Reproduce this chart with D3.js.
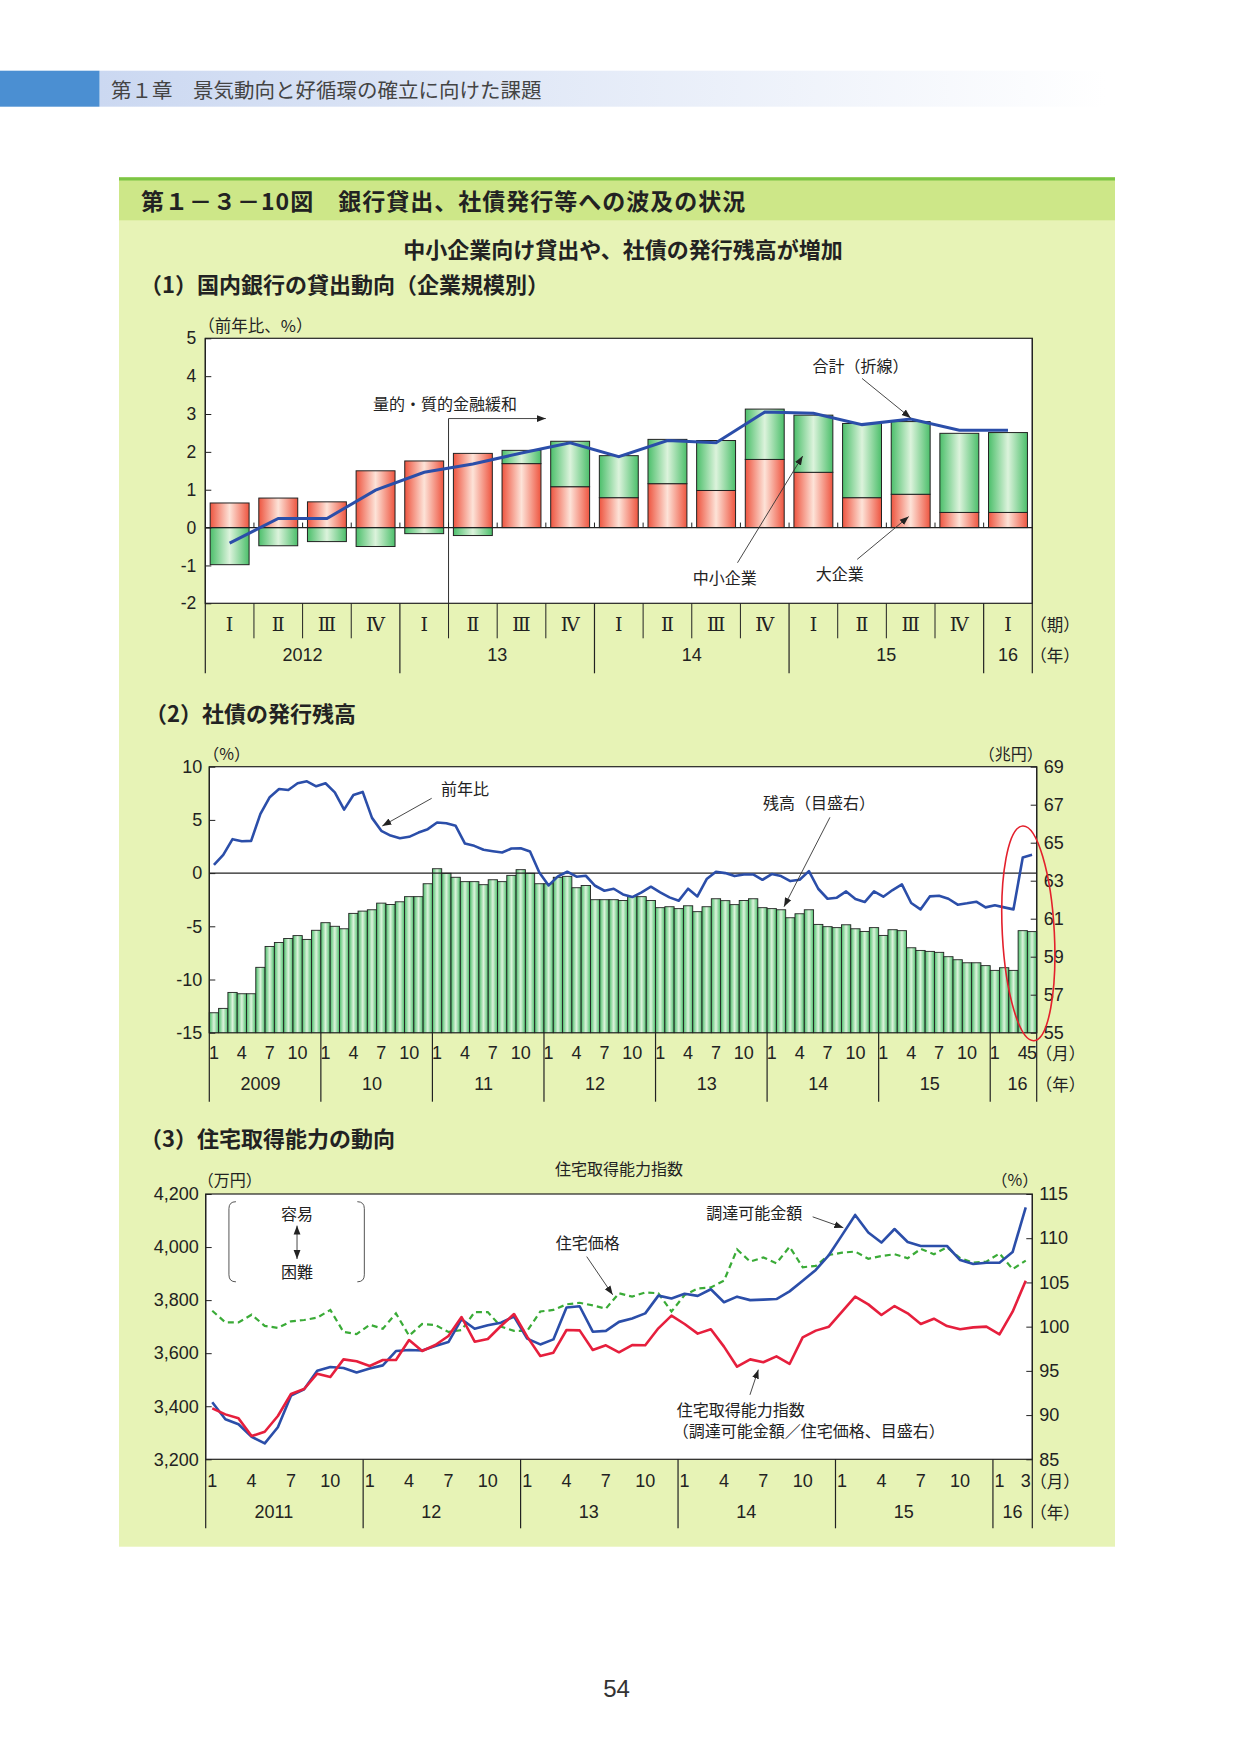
<!DOCTYPE html>
<html><head><meta charset="utf-8">
<script src="https://cdn.jsdelivr.net/npm/d3@7"></script>
<style>
body{margin:0;background:#fff;}
svg{display:block;}
text{font-family:"Noto Sans CJK JP","Noto Sans",sans-serif;fill:#222;}
.num{font-family:"Liberation Sans","Noto Sans CJK JP",sans-serif;}
.rom{font-family:"DejaVu Serif","Liberation Serif",serif;}
</style></head><body>
<script>
// ================= DATA =================
// (1) bank lending by firm size, y/y %, quarterly 2012Q1-2016Q1
const c1Quarters = ["Ⅰ","Ⅱ","Ⅲ","Ⅳ","Ⅰ","Ⅱ","Ⅲ","Ⅳ","Ⅰ","Ⅱ","Ⅲ","Ⅳ","Ⅰ","Ⅱ","Ⅲ","Ⅳ","Ⅰ"];
const c1Years = ["2012","13","14","15","16"];
const c1QuartersPerYear = [4,4,4,4,1];
const c1Large = [0.65,0.78,0.68,1.50,1.76,1.96,1.69,1.08,0.79,1.16,0.98,1.80,1.46,0.79,0.88,0.40,0.40];
const c1Small = [-0.98,-0.48,-0.37,-0.50,-0.16,-0.21,0.35,1.20,1.11,1.17,1.32,1.33,1.51,1.96,1.92,2.09,2.11];
const c1Total = [-0.41,0.24,0.24,0.99,1.46,1.68,1.97,2.24,1.87,2.30,2.24,3.05,3.02,2.72,2.87,2.57,2.57];
const c1YTicks = [-2,-1,0,1,2,3,4,5];

// (2) corporate bonds outstanding, monthly 2009/1-2016/5
const c2Years = ["2009","10","11","12","13","14","15","16"];
const c2MonthsPerYear = [12,12,12,12,12,12,12,5];
const c2Growth = [
 0.78,1.72,3.19,3.00,3.03,5.56,7.13,7.90,7.81,8.44,8.63,8.16,
 8.44,7.59,5.97,7.34,7.63,5.19,3.97,3.53,3.28,3.41,3.81,4.13,
 4.75,4.69,4.44,2.78,2.56,2.19,2.06,1.94,2.31,2.34,2.03,0.06,
 -1.16,-0.31,0.13,-0.34,-0.25,-1.19,-1.66,-1.47,-2.00,-2.25,-1.81,-1.28,
 -1.81,-2.28,-2.59,-1.47,-2.19,-0.56,0.13,0.00,-0.28,-0.13,-0.13,-0.63,
 -0.09,-0.28,-0.75,-0.63,0.19,-1.47,-2.41,-2.31,-1.72,-2.44,-2.72,-1.72,
 -2.22,-1.59,-1.06,-2.81,-3.41,-2.19,-2.13,-2.41,-2.97,-2.84,-2.69,-3.22,
 -3.03,-3.22,-3.41,1.47,1.72];
const c2Outstanding = [
 56.05,56.28,57.12,57.05,57.05,58.44,59.54,59.75,59.96,60.11,59.91,60.39,
 60.79,60.60,60.47,61.28,61.40,61.47,61.82,61.75,61.89,62.16,62.16,62.84,
 63.63,63.39,63.18,62.95,62.95,62.79,63.05,62.95,63.28,63.58,63.39,62.84,
 62.84,63.18,63.23,62.63,62.75,62.00,62.00,62.00,61.96,62.16,62.16,61.96,
 61.58,61.63,61.53,61.68,61.37,61.63,62.05,61.95,61.74,61.96,62.05,61.58,
 61.53,61.47,61.05,61.26,61.47,60.70,60.58,60.53,60.68,60.47,60.33,60.53,
 60.12,60.42,60.37,59.47,59.33,59.28,59.23,59.00,58.84,58.68,58.68,58.53,
 58.28,58.42,58.28,60.37,60.32];
const c2LeftTicks = [-15,-10,-5,0,5,10];
const c2RightTicks = [55,57,59,61,63,65,67,69];
const c2MonthTickLabels = [1,4,7,10];

// (3) housing affordability, monthly 2011/1-2016/3
const c3Years = ["2011","12","13","14","15","16"];
const c3MonthsPerYear = [12,12,12,12,12,3];
const c3Funds = [
 3415,3351,3332,3285,3260,3321,3440,3464,3534,3548,3544,3527,
 3542,3554,3608,3612,3610,3627,3642,3728,3692,3705,3715,3738,
 3655,3633,3652,3772,3777,3681,3684,3718,3731,3750,3817,3806,
 3824,3816,3841,3792,3813,3800,3802,3804,3833,3873,3914,3970,
 4045,4121,4055,4017,4068,4019,4004,4004,4004,3951,3936,3941,
 3941,3981,4150];
const c3Price = [
 3760,3716,3716,3745,3703,3695,3720,3725,3734,3763,3680,3672,
 3707,3692,3750,3666,3710,3706,3680,3687,3755,3755,3700,3684,
 3684,3757,3763,3784,3790,3780,3768,3826,3813,3829,3826,3757,
 3819,3844,3848,3873,3991,3945,3961,3939,4001,3924,3929,3970,
 3979,3983,3956,3966,3973,3958,3993,3973,3999,3958,3941,3945,
 3976,3917,3949];
const c3Index = [
 90.76,90.08,89.63,87.63,88.12,89.90,92.38,92.95,94.68,94.31,96.30,96.08,
 95.55,96.23,96.23,98.49,97.25,97.92,98.94,101.09,98.30,98.60,100.07,101.43,
 98.87,96.68,97.06,99.62,99.58,97.36,97.89,97.10,97.92,97.89,99.81,101.24,
 100.30,99.21,99.70,97.74,95.47,96.30,95.97,96.64,95.78,98.79,99.55,100.00,
 101.69,103.39,102.52,101.32,102.33,101.51,100.30,100.90,100.07,99.70,99.92,100.00,
 99.13,101.69,105.20];
const c3LeftTicks = [3200,3400,3600,3800,4000,4200];
const c3RightTicks = [85,90,95,100,105,110,115];

// ================= PAGE =================
const W = 1241, H = 1754;
const svg = d3.select("body").append("svg").attr("width", W).attr("height", H);
const defs = svg.append("defs");

function hGrad(id, edge, mid) {
  const g = defs.append("linearGradient").attr("id", id).attr("x1", "0").attr("x2", "1").attr("y1", "0").attr("y2", "0");
  g.append("stop").attr("offset", "0").attr("stop-color", edge);
  g.append("stop").attr("offset", "0.5").attr("stop-color", mid);
  g.append("stop").attr("offset", "1").attr("stop-color", edge);
}
hGrad("gRed", "#ee5540", "#fde3d8");
hGrad("gGreen", "#4cbf6b", "#dcf3dc");
const hg = defs.append("linearGradient").attr("id", "gHead").attr("x1", "0").attr("x2", "1");
hg.append("stop").attr("offset", "0").attr("stop-color", "#cbd8f1");
hg.append("stop").attr("offset", "1").attr("stop-color", "#ffffff");

defs.append("marker").attr("id", "ah").attr("viewBox", "0 0 10 10").attr("refX", 10).attr("refY", 5)
  .attr("markerWidth", 9).attr("markerHeight", 9).attr("markerUnits", "userSpaceOnUse").attr("orient", "auto-start-reverse")
  .append("path").attr("d", "M0,1.2 L10,5 L0,8.8 Z").attr("fill", "#222");

function arrow(g, xa, ya, xb, yb, both) {
  const l = g.append("line").attr("x1", xa).attr("y1", ya).attr("x2", xb).attr("y2", yb)
    .attr("stroke", "#333").attr("stroke-width", 0.9).attr("marker-end", "url(#ah)");
  if (both) l.attr("marker-start", "url(#ah)");
}
function txt(g, x, y, s, size, anchor, cls, weight) {
  return g.append("text").attr("x", x).attr("y", y).attr("font-size", size)
    .attr("text-anchor", anchor || "start").attr("dominant-baseline", "central")
    .attr("class", cls || null).attr("font-weight", weight || null).text(s);
}

// header band
svg.append("rect").attr("x", 99.5).attr("y", 70.7).attr("width", 1006).attr("height", 36).attr("fill", "url(#gHead)");
svg.append("rect").attr("x", 0).attr("y", 70.7).attr("width", 99.5).attr("height", 36).attr("fill", "#4b8fd2");
txt(svg, 111, 88.7, "第１章　景気動向と好循環の確立に向けた課題", 20.5, "start").style("fill", "#444");

// panel
svg.append("rect").attr("x", 119).attr("y", 220).attr("width", 996).attr("height", 1326.7).attr("fill", "#e7f3b6");
svg.append("rect").attr("x", 119).attr("y", 177.3).attr("width", 996).attr("height", 43).attr("fill", "#cde788");
svg.append("rect").attr("x", 119).attr("y", 177.3).attr("width", 996).attr("height", 3.2).attr("fill", "#7cc545");
txt(svg, 141, 199.5, "第１－３－10図　銀行貸出、社債発行等への波及の状況", 23, "start", null, "bold").attr("letter-spacing", 1);
txt(svg, 623, 248, "中小企業向け貸出や、社債の発行残高が増加", 22, "middle", null, "bold");
txt(svg, 140, 282.7, "（1）国内銀行の貸出動向（企業規模別）", 22, "start", null, "bold");
txt(svg, 145, 711.7, "（2）社債の発行残高", 22, "start", null, "bold");
txt(svg, 140, 1137, "（3）住宅取得能力の動向", 22, "start", null, "bold");
txt(svg, 616.5, 1688, "54", 24, "middle", "num").style("fill", "#333");

// helper for category rows
function cumulative(arr) { const out = [0]; arr.forEach(v => out.push(out[out.length - 1] + v)); return out; }

// ================= CHART 1 =================
(function () {
  const P = { l: 205.3, r: 1032.3, t: 338.3, b: 603.3 };
  const n = c1Large.length;
  const g = svg.append("g");
  const x = d3.scaleBand().domain(d3.range(n)).range([P.l, P.r]).paddingInner(0.2).paddingOuter(0.1);
  const q = d3.scaleLinear().domain([0, n]).range([P.l, P.r]);
  const y = d3.scaleLinear().domain([-2, 5]).range([P.b, P.t]);

  g.append("rect").attr("x", P.l).attr("y", P.t).attr("width", P.r - P.l).attr("height", P.b - P.t)
    .attr("fill", "#fff").attr("stroke", "#222").attr("stroke-width", 1.2);

  // annotation: QQE start line
  g.append("line").attr("x1", q(5)).attr("x2", q(5)).attr("y1", y(2.88)).attr("y2", P.b).attr("stroke", "#333").attr("stroke-width", 1);
  arrow(g, q(5), y(2.88), q(7), y(2.88));
  txt(g, q(4.93), y(3.28), "量的・質的金融緩和", 16, "middle");

  const bw = x.bandwidth();
  const bars = g.append("g");
  c1Large.forEach((L, i) => {
    bars.append("rect").attr("x", x(i)).attr("width", bw).attr("y", y(L)).attr("height", y(0) - y(L))
      .attr("fill", "url(#gRed)").attr("stroke", "#222").attr("stroke-width", 1);
    const s = c1Small[i];
    if (s < 0) {
      bars.append("rect").attr("x", x(i)).attr("width", bw).attr("y", y(0)).attr("height", y(s) - y(0))
        .attr("fill", "url(#gGreen)").attr("stroke", "#222").attr("stroke-width", 1);
    } else {
      bars.append("rect").attr("x", x(i)).attr("width", bw).attr("y", y(L + s)).attr("height", y(L) - y(L + s))
        .attr("fill", "url(#gGreen)").attr("stroke", "#222").attr("stroke-width", 1);
    }
  });
  // zero line + ticks
  g.append("line").attr("x1", P.l).attr("x2", P.r).attr("y1", y(0)).attr("y2", y(0)).attr("stroke", "#222").attr("stroke-width", 1.2);
  for (let k = 1; k < n; k++) g.append("line").attr("x1", q(k)).attr("x2", q(k)).attr("y1", y(0)).attr("y2", y(0) - 5).attr("stroke", "#222");

  g.append("path").datum(c1Total)
    .attr("d", d3.line().x((d, i) => x(i) + bw / 2).y(d => y(d)))
    .attr("fill", "none").attr("stroke", "#2b4ea9").attr("stroke-width", 3);

  // axis
  const ax = g.append("g").attr("transform", `translate(${P.l},0)`)
    .call(d3.axisLeft(y).tickValues(c1YTicks).tickSize(-6).tickPadding(9).tickFormat(d => String(d)));
  ax.select(".domain").remove();
  ax.selectAll("line").attr("stroke", "#222");
  ax.selectAll("text").attr("class", "num").attr("font-size", 17.5).attr("font-family", null).style("fill", "#222");
  txt(g, P.l - 7, 324.5, "（前年比、%）", 16.5, "start");

  // category rows
  const rowQ = 638.3, rowY = 673.3;
  const cum = cumulative(c1QuartersPerYear);
  for (let k = 0; k <= n; k++) {
    const isYear = cum.includes(k);
    g.append("line").attr("x1", q(k)).attr("x2", q(k)).attr("y1", (k === 0 || k === n) ? P.t : P.b).attr("y2", isYear ? rowY : rowQ)
      .attr("stroke", "#222").attr("stroke-width", isYear ? 1.2 : 1);
  }
  c1Quarters.forEach((s, i) => txt(g, x(i) + bw / 2, 624, s, 19, "middle", "rom"));
  c1Years.forEach((s, j) => txt(g, (q(cum[j]) + q(cum[j + 1])) / 2, 655, s, 18, "middle", "num"));
  txt(g, P.r - 2, 624, "（期）", 16.5, "start");
  txt(g, P.r - 2, 655, "（年）", 16.5, "start");

  // annotations
  txt(g, q(13.47), y(4.29), "合計（折線）", 16, "middle");
  arrow(g, q(13.5), y(3.94), x(14) + bw / 2, y(c1Total[14]) - 1);
  txt(g, q(10.68), y(-1.30), "中小企業", 16, "middle");
  arrow(g, q(10.94), y(-0.93), q(12.28), y(1.89));
  txt(g, q(13.04), y(-1.21), "大企業", 16, "middle");
  arrow(g, q(13.40), y(-0.84), q(14.46), y(0.29));
})();

// ================= CHART 2 =================
(function () {
  const P = { l: 209.3, r: 1036.7, t: 766.7, b: 1032.7 };
  const n = c2Outstanding.length;
  const g = svg.append("g");
  const x = d3.scaleBand().domain(d3.range(n)).range([P.l, P.r]);
  const m = d3.scaleLinear().domain([0, n]).range([P.l, P.r]);
  const yL = d3.scaleLinear().domain([-15, 10]).range([P.b, P.t]);
  const yR = d3.scaleLinear().domain([55, 69]).range([P.b, P.t]);
  const bw = x.bandwidth();

  g.append("rect").attr("x", P.l).attr("y", P.t).attr("width", P.r - P.l).attr("height", P.b - P.t)
    .attr("fill", "#fff").attr("stroke", "#222").attr("stroke-width", 1.2);

  g.append("g").selectAll("rect").data(c2Outstanding).join("rect")
    .attr("x", (d, i) => x(i)).attr("width", bw).attr("y", d => yR(d)).attr("height", d => P.b - yR(d))
    .attr("fill", "url(#gGreen)").attr("stroke", "#222").attr("stroke-width", 0.9);

  g.append("line").attr("x1", P.l).attr("x2", P.r).attr("y1", yL(0)).attr("y2", yL(0)).attr("stroke", "#222").attr("stroke-width", 1.1);

  g.append("path").datum(c2Growth)
    .attr("d", d3.line().x((d, i) => x(i) + bw / 2).y(d => yL(d)))
    .attr("fill", "none").attr("stroke", "#2b4ea9").attr("stroke-width", 2.6).attr("stroke-linejoin", "round");

  const axL = g.append("g").attr("transform", `translate(${P.l},0)`)
    .call(d3.axisLeft(yL).tickValues(c2LeftTicks).tickSize(-6).tickPadding(7).tickFormat(d => String(d)));
  const axR = g.append("g").attr("transform", `translate(${P.r},0)`)
    .call(d3.axisRight(yR).tickValues(c2RightTicks).tickSize(-6).tickPadding(7).tickFormat(d => String(d)));
  [axL, axR].forEach(a => {
    a.select(".domain").remove();
    a.selectAll("line").attr("stroke", "#222");
    a.selectAll("text").attr("class", "num").attr("font-size", 18).attr("font-family", null).style("fill", "#222");
  });
  txt(g, P.l - 6, 753.3, "（%）", 16, "start");
  txt(g, P.r + 6, 753.3, "（兆円）", 16, "end");

  // category rows
  const rowEnd = 1101.7;
  const cum = cumulative(c2MonthsPerYear);
  cum.forEach(k => g.append("line").attr("x1", m(k)).attr("x2", m(k)).attr("y1", (k === 0 || k === n) ? P.t : P.b).attr("y2", rowEnd)
    .attr("stroke", "#222").attr("stroke-width", 1.2));
  c2Years.forEach((s, j) => {
    const cnt = c2MonthsPerYear[j];
    for (let mo = 1; mo <= cnt; mo++) {
      if (c2MonthTickLabels.includes(mo) || (j === c2Years.length - 1 && mo === cnt)) {
        const i = cum[j] + mo - 1;
        txt(g, x(i) + bw / 2, 1052.7, String(mo), 18, "middle", "num");
      }
    }
    const cx = cnt === 12 ? x(cum[j] + 5) + bw / 2 : (m(cum[j]) + m(cum[j + 1])) / 2 + 4;
    txt(g, cx, 1084.3, s, 18, "middle", "num");
  });
  txt(g, P.r - 1, 1052.7, "（月）", 16.5, "start");
  txt(g, P.r - 1, 1084.3, "（年）", 16.5, "start");

  // annotations
  txt(g, m(27.5), yL(7.97), "前年比", 16, "middle");
  arrow(g, m(23.92), yL(7.03), m(18.61), yL(4.43));
  txt(g, m(65.58), yL(6.71), "残高（目盛右）", 16, "middle");
  arrow(g, m(66.76), yL(5.24), m(61.82), yL(-3.16));
  const ex = m(88.1), ey = yL(-5.66);
  g.append("ellipse").attr("cx", ex).attr("cy", ey).attr("rx", 26).attr("ry", 107.5)
    .attr("transform", `rotate(-3,${ex},${ey})`)
    .attr("fill", "none").attr("stroke", "#e3202c").attr("stroke-width", 1.6);
})();

// ================= CHART 3 =================
(function () {
  const P = { l: 205.7, r: 1032.3, t: 1194, b: 1459.3 };
  const n = c3Funds.length;
  const g = svg.append("g");
  const x = d3.scaleBand().domain(d3.range(n)).range([P.l, P.r]);
  const m = d3.scaleLinear().domain([0, n]).range([P.l, P.r]);
  const yL = d3.scaleLinear().domain([3200, 4200]).range([P.b, P.t]);
  const yR = d3.scaleLinear().domain([85, 115]).range([P.b, P.t]);
  const bw = x.bandwidth();
  const cxF = (d, i) => x(i) + bw / 2;

  g.append("rect").attr("x", P.l).attr("y", P.t).attr("width", P.r - P.l).attr("height", P.b - P.t)
    .attr("fill", "#fff").attr("stroke", "#222").attr("stroke-width", 1.2);

  g.append("path").datum(c3Price).attr("d", d3.line().x(cxF).y(d => yL(d)))
    .attr("fill", "none").attr("stroke", "#3aab37").attr("stroke-width", 2.2).attr("stroke-dasharray", "6,4");
  g.append("path").datum(c3Funds).attr("d", d3.line().x(cxF).y(d => yL(d)))
    .attr("fill", "none").attr("stroke", "#2b4ea9").attr("stroke-width", 2.6).attr("stroke-linejoin", "round");
  g.append("path").datum(c3Index).attr("d", d3.line().x(cxF).y(d => yR(d)))
    .attr("fill", "none").attr("stroke", "#e61f3d").attr("stroke-width", 2.6).attr("stroke-linejoin", "round");

  const axL = g.append("g").attr("transform", `translate(${P.l},0)`)
    .call(d3.axisLeft(yL).tickValues(c3LeftTicks).tickSize(-6).tickPadding(7).tickFormat(d3.format(",")));
  const axR = g.append("g").attr("transform", `translate(${P.r},0)`)
    .call(d3.axisRight(yR).tickValues(c3RightTicks).tickSize(-6).tickPadding(7).tickFormat(d => String(d)));
  [axL, axR].forEach(a => {
    a.select(".domain").remove();
    a.selectAll("line").attr("stroke", "#222");
    a.selectAll("text").attr("class", "num").attr("font-size", 18).attr("font-family", null).style("fill", "#222");
  });
  txt(g, P.l - 8, 1179.3, "（万円）", 16, "start");
  txt(g, P.r + 6, 1179.3, "（%）", 16, "end");
  txt(g, (P.l + P.r) / 2, 1168.3, "住宅取得能力指数", 16, "middle");

  // category rows
  const rowEnd = 1528.3;
  const cum = cumulative(c3MonthsPerYear);
  cum.forEach(k => g.append("line").attr("x1", m(k)).attr("x2", m(k)).attr("y1", (k === 0 || k === n) ? P.t : P.b).attr("y2", rowEnd)
    .attr("stroke", "#222").attr("stroke-width", 1.2));
  c3Years.forEach((s, j) => {
    const cnt = c3MonthsPerYear[j];
    for (let mo = 1; mo <= cnt; mo++) {
      if (c2MonthTickLabels.includes(mo) || (j === c3Years.length - 1 && mo === cnt)) {
        const i = cum[j] + mo - 1;
        txt(g, x(i) + bw / 2, 1480.7, String(mo), 18, "middle", "num");
      }
    }
    const cx = cnt === 12 ? x(cum[j] + 5) + bw / 2 - 4 : (m(cum[j]) + m(cum[j + 1])) / 2;
    txt(g, cx, 1511.7, s, 18, "middle", "num");
  });
  txt(g, P.r - 2, 1480.7, "（月）", 16.5, "start");
  txt(g, P.r - 2, 1511.7, "（年）", 16.5, "start");

  // legend-like bracket box
  const bx0 = m(1.77), bx1 = m(12.09), by0 = yL(4171), by1 = yL(3869), r = 7;
  g.append("path").attr("d", `M${bx0 + r},${by0} Q${bx0},${by0} ${bx0},${by0 + r} L${bx0},${by1 - r} Q${bx0},${by1} ${bx0 + r},${by1}`)
    .attr("fill", "none").attr("stroke", "#555").attr("stroke-width", 1);
  g.append("path").attr("d", `M${bx1 - r},${by0} Q${bx1},${by0} ${bx1},${by0 + r} L${bx1},${by1 - r} Q${bx1},${by1} ${bx1 - r},${by1}`)
    .attr("fill", "none").attr("stroke", "#555").attr("stroke-width", 1);
  txt(g, m(6.96), yL(4129.5), "容易", 16, "middle");
  txt(g, m(6.96), yL(3911), "困難", 16, "middle");
  arrow(g, m(6.96), yL(4081), m(6.96), yL(3955), true);

  // annotations
  txt(g, m(29.11), yL(4020), "住宅価格", 16, "middle");
  arrow(g, m(29.04), yL(3964), m(31.02), yL(3820));
  txt(g, m(41.8), yL(4133), "調達可能金額", 16, "middle");
  arrow(g, m(46.26), yL(4114), m(48.6), yL(4073));
  txt(g, m(35.9), yL(3390), "住宅取得能力指数", 16, "start");
  txt(g, m(35.9) - 4, yL(3312), "（調達可能金額／住宅価格、目盛右）", 16, "start");
  arrow(g, m(41.48), yL(3443), m(42.12), yL(3538));
})();
</script>
</body></html>
